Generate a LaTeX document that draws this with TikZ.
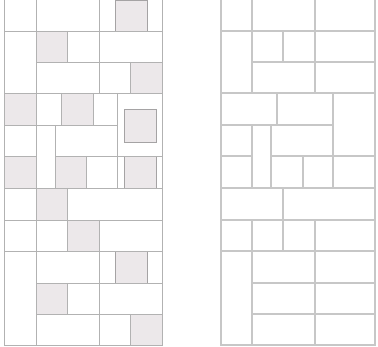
\documentclass[tikz,border=0pt]{standalone}
\definecolor{tilefill}{RGB}{236,232,234}
\definecolor{tileedge}{RGB}{165,163,164}
\begin{document}
\begin{tikzpicture}[x=1pt,y=-1pt,
  lline/.style={draw=black!30,line width=0.9pt},
  rline/.style={draw=black!22,line width=1.7pt},
  shade/.style={fill=tilefill,draw=tileedge,line width=0.9pt}]
\useasboundingbox (0,0) rectangle (378,347);
% ---------- left panel: shaded tiles ----------
\foreach \a/\b/\c/\d in {115/0/147/31, 36/31/67/62, 130/62/162/93, 4/93/36/125,
  61/93/93/125, 124/109/156/142, 4/156/36/188, 55/156/86/188, 124/156/156/188,
  36/188/67/220, 67/220/99/251, 115/251/147/283, 36/283/67/314, 130/314/162/345}
  \path[shade] (\a,\b) rectangle (\c,\d);
% ---------- left panel: lines ----------
\draw[lline] (4,0) -- (4,345) -- (162,345) -- (162,0);
\foreach \a/\b/\c in {4/31/162, 36/62/162, 4/93/162, 4/125/117, 4/156/36, 55/156/162,
  4/188/162, 4/220/162, 4/251/162, 36/283/162, 36/314/162}
  \draw[lline] (\a,\b) -- (\c,\b);
\foreach \a/\b/\c in {36/0/345, 99/0/93, 67/31/62, 130/62/93, 61/93/125, 93/93/125,
  117/93/188, 55/125/188, 86/156/188, 67/188/251, 99/220/345, 67/283/314, 130/314/345}
  \draw[lline] (\a,\b) -- (\a,\c);
% ---------- right panel ----------
\draw[rline] (221,0) -- (221,345) -- (375,345) -- (375,0);
\foreach \a/\b/\c in {221/31/375, 252/62/375, 221/93/375, 221/125/333, 221/156/252,
  271/156/375, 221/188/375, 221/220/375, 221/251/375, 252/283/375, 252/314/375}
  \draw[rline] (\a,\b) -- (\c,\b);
\foreach \a/\b/\c in {252/0/93, 315/0/93, 283/31/62, 277/93/125, 333/93/188, 252/125/188,
  271/125/188, 303/156/188, 283/188/251, 252/220/345, 315/220/345}
  \draw[rline] (\a,\b) -- (\a,\c);
\end{tikzpicture}
\end{document}
